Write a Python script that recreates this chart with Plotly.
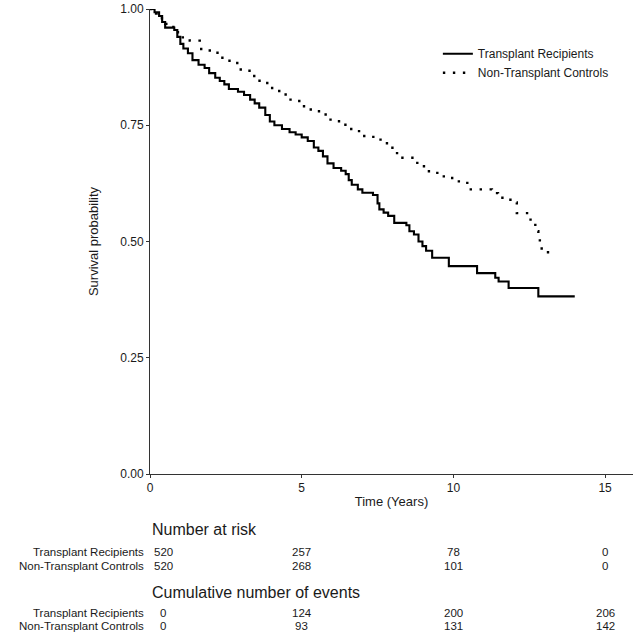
import plotly.graph_objects as go

# ---- Data ----
tr_time = [0, 0.15, 0.3, 0.4, 0.5, 0.8, 0.9, 1.0, 1.1, 1.25, 1.4, 1.6, 1.8, 1.95, 2.15, 2.3, 2.45, 2.6,
           2.9, 3.1, 3.3, 3.45, 3.6, 3.8, 3.95, 4.1, 4.35, 4.6, 4.8, 5.0, 5.2, 5.4, 5.55, 5.7, 5.85,
           6.05, 6.3, 6.45, 6.55, 6.65, 6.85, 7.0, 7.35, 7.5, 7.56, 7.7, 7.85, 8.05, 8.45, 8.55, 8.7,
           8.85, 8.98, 9.1, 9.3, 9.85, 10.78, 11.38, 11.49, 11.82, 12.80, 14.0]
tr_surv = [1.0, 0.993, 0.985, 0.972, 0.96, 0.955, 0.94, 0.925, 0.915, 0.905, 0.89, 0.88, 0.873, 0.862,
           0.852, 0.845, 0.838, 0.828, 0.822, 0.815, 0.805, 0.797, 0.788, 0.772, 0.758, 0.75, 0.742,
           0.735, 0.73, 0.724, 0.716, 0.702, 0.695, 0.683, 0.668, 0.658, 0.652, 0.645, 0.632, 0.622,
           0.612, 0.605, 0.6, 0.582, 0.569, 0.562, 0.555, 0.54, 0.535, 0.522, 0.515, 0.5, 0.49, 0.48,
           0.465, 0.447, 0.432, 0.422, 0.414, 0.40, 0.382, 0.382]

nt_time = [0, 0.2, 0.35, 0.5, 0.77, 0.98, 1.31, 1.64, 1.97, 2.30, 2.62, 2.95, 3.28, 3.61, 3.93, 4.26,
           4.59, 4.92, 5.25, 5.57, 5.9, 6.23, 6.56, 6.89, 7.21, 7.54, 7.81, 7.99, 8.32, 8.81, 9.03,
           9.47, 9.96, 10.18, 10.51, 11.27, 11.47, 11.88, 12.09, 12.48, 12.62, 12.70, 12.80, 12.85,
           12.91, 13.19]
nt_surv = [1.0, 0.99, 0.98, 0.968, 0.95, 0.939, 0.932, 0.914, 0.906, 0.895, 0.884, 0.87, 0.856, 0.841,
           0.83, 0.816, 0.805, 0.791, 0.784, 0.773, 0.762, 0.751, 0.742, 0.727, 0.725, 0.719, 0.705,
           0.69, 0.68, 0.669, 0.651, 0.64, 0.632, 0.626, 0.612, 0.604, 0.594, 0.584, 0.561, 0.547,
           0.54, 0.522, 0.508, 0.49, 0.477, 0.477]

group_names = ["Transplant Recipients", "Non-Transplant Controls"]
table_times = [0, 5, 10, 15]
at_risk_tr = [520, 257, 78, 0]
at_risk_nt = [520, 268, 101, 0]
events_tr = [0, 124, 200, 206]
events_nt = [0, 93, 131, 142]

y_ticks = [0, 0.25, 0.5, 0.75, 1.0]
y_ticktext = ["0.00", "0.25", "0.50", "0.75", "1.00"]
x_ticks = [0, 5, 10, 15]

FONT = "Liberation Sans, Arial, sans-serif"
TXT = "#1a1a1a"

fig = go.Figure()
fig.add_trace(go.Scatter(x=tr_time, y=tr_surv, mode="lines", line_shape="hv",
                         name=group_names[0], line=dict(color="black", width=2.1)))
fig.add_trace(go.Scatter(x=nt_time, y=nt_surv, mode="lines", line_shape="hv",
                         name=group_names[1],
                         line=dict(color="black", width=2.4, dash="2.4px,7.6px")))

# ---- Layout geometry ----
L, R, T, B = 150, 3, 9, 163
W, H = 636, 637
plot_h = H - T - B


def py(pix):
    """convert a pixel row below the plot into paper y"""
    return (H - B - pix) / plot_h


annotations = []
annotations.append(dict(text="Number at risk", x=0, xref="paper", xanchor="left", xshift=0,
                        y=py(529), yref="paper", yanchor="middle", showarrow=False,
                        font=dict(size=16, color=TXT, family=FONT)))
annotations.append(dict(text="Cumulative number of events", x=0, xref="paper", xanchor="left",
                        y=py(592), yref="paper", yanchor="middle", showarrow=False,
                        font=dict(size=16, color=TXT, family=FONT)))

rows = [
    (552, group_names[0], at_risk_tr),
    (565.5, group_names[1], at_risk_nt),
    (612.5, group_names[0], events_tr),
    (626, group_names[1], events_nt),
]
for pix, label, vals in rows:
    annotations.append(dict(text=label, x=0, xref="paper", xanchor="right", xshift=-4,
                            y=py(pix), yref="paper", yanchor="middle", showarrow=False,
                            font=dict(size=11.5, color=TXT, family=FONT)))
    for t, v in zip(table_times, vals):
        annotations.append(dict(text=str(v), x=t, xref="x", xanchor="center",
                                xshift=13 if t == 0 else 0,
                                y=py(pix), yref="paper", yanchor="middle", showarrow=False,
                                font=dict(size=11.5, color=TXT, family=FONT)))

fig.update_layout(
    width=W, height=H,
    margin=dict(l=L, r=R, t=T, b=B),
    paper_bgcolor="white", plot_bgcolor="white",
    font=dict(family=FONT, color=TXT, size=12),
    showlegend=True,
    legend=dict(x=0.596, xanchor="left", y=0.935, yanchor="top",
                bgcolor="rgba(0,0,0,0)", font=dict(size=12, color=TXT, family=FONT),
                itemwidth=30, tracegroupgap=0),
    xaxis=dict(range=[0, 15.92], tickvals=x_ticks, showline=True, linecolor="#333333",
               linewidth=1, ticks="outside", ticklen=3, tickcolor="#333333", showgrid=False,
               zeroline=False, tickfont=dict(size=12, color=TXT, family=FONT),
               title=dict(text="Time (Years)", font=dict(size=13, color=TXT, family=FONT),
                          standoff=2)),
    yaxis=dict(range=[0, 1], tickvals=y_ticks, ticktext=y_ticktext, showline=True,
               linecolor="#333333", linewidth=1, ticks="outside", ticklen=3,
               tickcolor="#333333", showgrid=False, zeroline=False,
               tickfont=dict(size=12, color=TXT, family=FONT),
               title=dict(text="Survival probability", font=dict(size=13, color=TXT, family=FONT),
                          standoff=18)),
    annotations=annotations,
)

fig.write_html("out.html", config={"displayModeBar": False},
               post_script="document.body.style.margin='0';document.body.style.overflow='hidden';")
